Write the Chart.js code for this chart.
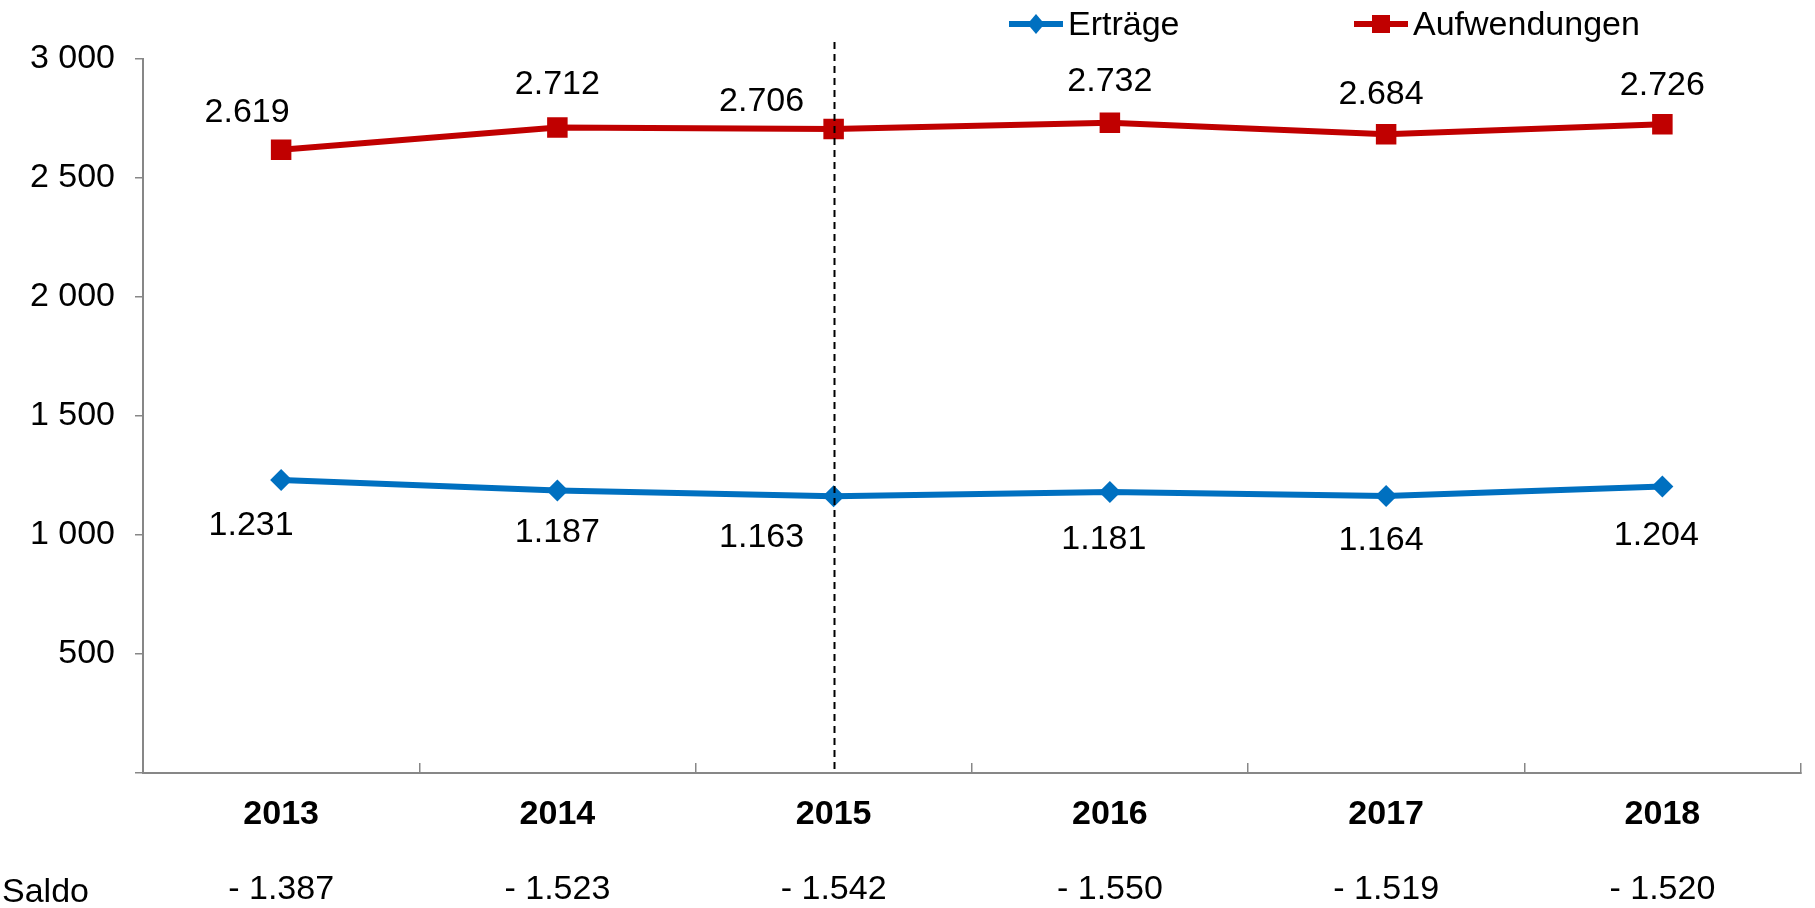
<!DOCTYPE html>
<html><head><meta charset="utf-8">
<script src="https://cdn.jsdelivr.net/npm/chart.js@4/dist/chart.umd.min.js"></script>
<style>html,body{margin:0;padding:0;background:#fff}#wrap{width:1815px;height:908px;position:relative}</style>
</head><body><div id="wrap"><canvas id="c" width="1815" height="908"></canvas></div>
<script>
// ---- data ----
const years = ['2013','2014','2015','2016','2017','2018'];
const ertraege = [1231, 1187, 1163, 1181, 1164, 1204];
const aufwendungen = [2619, 2712, 2706, 2732, 2684, 2726];
const saldo = [-1387, -1523, -1542, -1550, -1519, -1520];
const yTicks = [0, 500, 1000, 1500, 2000, 2500, 3000];
const markedYear = '2015';
const saldoTitle = 'Saldo';

// ---- layout / style (not data) ----
const FONT = "'Liberation Sans', Arial, sans-serif";
const AXIS_COLOR = '#878787';
const BLUE = '#0070C0';
const RED = '#C00000';
const ertraegeLabelOffset = [[-30,43],[0,39],[-72,39],[-6,45],[-5,42],[-6,46]];
const aufwLabelOffset = [[-34,-40],[0,-46],[-72,-30],[0,-44],[-5,-42],[0,-41]];
const labelOffsets = [ertraegeLabelOffset, aufwLabelOffset];
const legendPos = [{line:1009, text:1068}, {line:1354, text:1413}];

function groupNum(v, sep){ return String(Math.abs(v)).replace(/\B(?=(\d{3})+(?!\d))/g, sep); }
const fmtSpace = v => v === 0 ? '' : groupNum(v, ' ');
const fmtDot = v => (v < 0 ? '- ' : '') + groupNum(v, '.');

const customDraw = {
  id: 'customDraw',
  afterDatasetsDraw(chart){
    const ctx = chart.ctx, xs = chart.scales.x, ys = chart.scales.y;
    // dashed vertical marker
    const px = Math.round(xs.getPixelForValue(years.indexOf(markedYear))) + 0.5;
    ctx.save();
    ctx.strokeStyle = '#000'; ctx.lineWidth = 2; ctx.setLineDash([7,5]);
    ctx.beginPath(); ctx.moveTo(px, ys.top - 17); ctx.lineTo(px, ys.bottom); ctx.stroke();
    ctx.restore();
    // data labels
    ctx.save();
    ctx.font = '34px ' + FONT; ctx.fillStyle = '#000';
    ctx.textAlign = 'center'; ctx.textBaseline = 'alphabetic';
    chart.data.datasets.forEach((ds, di) => {
      const meta = chart.getDatasetMeta(di);
      meta.data.forEach((pt, i) => {
        const off = labelOffsets[di][i];
        ctx.fillText(fmtDot(ds.data[i]), pt.x + off[0], pt.y + off[1] + 12.2);
      });
    });
    ctx.restore();
  },
  afterDraw(chart){
    const ctx = chart.ctx;
    ctx.save();
    // legend
    const ly = 24;
    chart.data.datasets.forEach((ds, di) => {
      const p = legendPos[di];
      ctx.strokeStyle = ds.borderColor; ctx.lineWidth = 6; ctx.setLineDash([]);
      ctx.beginPath(); ctx.moveTo(p.line, ly); ctx.lineTo(p.line + 54, ly); ctx.stroke();
      ctx.fillStyle = ds.backgroundColor;
      const cx = p.line + 27;
      ctx.beginPath();
      if (ds.pointStyle === 'rectRot') {
        const r = 10;
        ctx.moveTo(cx - r*0.85, ly); ctx.lineTo(cx, ly - r); ctx.lineTo(cx + r*0.85, ly); ctx.lineTo(cx, ly + r); ctx.closePath();
      } else {
        const s = 9;
        ctx.rect(cx - s, ly - s, 2*s, 2*s);
      }
      ctx.fill();
      ctx.fillStyle = '#000'; ctx.font = '34px ' + FONT; ctx.textAlign = 'left'; ctx.textBaseline = 'alphabetic';
      ctx.fillText(ds.label, p.text, ly + 11);
    });
    // Saldo row title
    const x2 = chart.scales.x2;
    ctx.fillStyle = '#000'; ctx.font = '34px ' + FONT; ctx.textAlign = 'left';
    ctx.fillText(saldoTitle, 2, x2.top + 34 + 20.4 + 12.2);
    ctx.restore();
  }
};

new Chart(document.getElementById('c'), {
  type: 'line',
  data: {
    labels: years,
    datasets: [
      { label: 'Erträge', data: ertraege, borderColor: BLUE, backgroundColor: BLUE, borderWidth: 6,
        pointStyle: 'rectRot', pointRadius: 11, pointBorderWidth: 0, pointHoverRadius: 11, tension: 0, xAxisID: 'x', yAxisID: 'y' },
      { label: 'Aufwendungen', data: aufwendungen, borderColor: RED, backgroundColor: RED, borderWidth: 6,
        pointStyle: 'rect', pointRadius: 14.5, pointBorderWidth: 0, pointHoverRadius: 14.5, tension: 0, xAxisID: 'x', yAxisID: 'y' }
    ]
  },
  options: {
    responsive: false, animation: false, devicePixelRatio: 1,
    layout: { padding: { top: 59, right: 8, bottom: 0, left: 0 } },
    plugins: { legend: { display: false }, tooltip: { enabled: false } },
    events: [],
    scales: {
      y: {
        min: 0, max: 3000,
        afterBuildTicks: s => { s.ticks = yTicks.map(v => ({ value: v })); },
        grid: { display: true, drawOnChartArea: false, drawTicks: true, tickLength: 8, color: AXIS_COLOR, lineWidth: 1.5 },
        border: { display: true, color: AXIS_COLOR, width: 2 },
        ticks: { font: { family: FONT, size: 34 }, color: '#000', padding: 20, callback: v => fmtSpace(v) },
        afterFit: s => { s.width = 143; }
      },
      x: {
        type: 'category', position: 'bottom', offset: true, weight: 0,
        grid: { display: true, offset: true, drawOnChartArea: false, drawTicks: true, tickLength: -10, color: AXIS_COLOR, lineWidth: 1.5 },
        border: { display: true, color: AXIS_COLOR, width: 2 },
        ticks: { font: { family: FONT, size: 34, weight: 'bold' }, color: '#000', padding: 31, maxRotation: 0, autoSkip: false },
        afterFit: s => { s.height = 62; }
      },
      x2: {
        type: 'category', position: 'bottom', offset: true, weight: 1,
        labels: saldo.map(fmtDot),
        grid: { display: false, drawTicks: false, drawOnChartArea: false },
        border: { display: false },
        ticks: { font: { family: FONT, size: 34 }, color: '#000', padding: 34, maxRotation: 0, autoSkip: false },
        afterFit: s => { s.height = 73; }
      }
    }
  },
  plugins: [customDraw]
});
</script>
</body></html>
